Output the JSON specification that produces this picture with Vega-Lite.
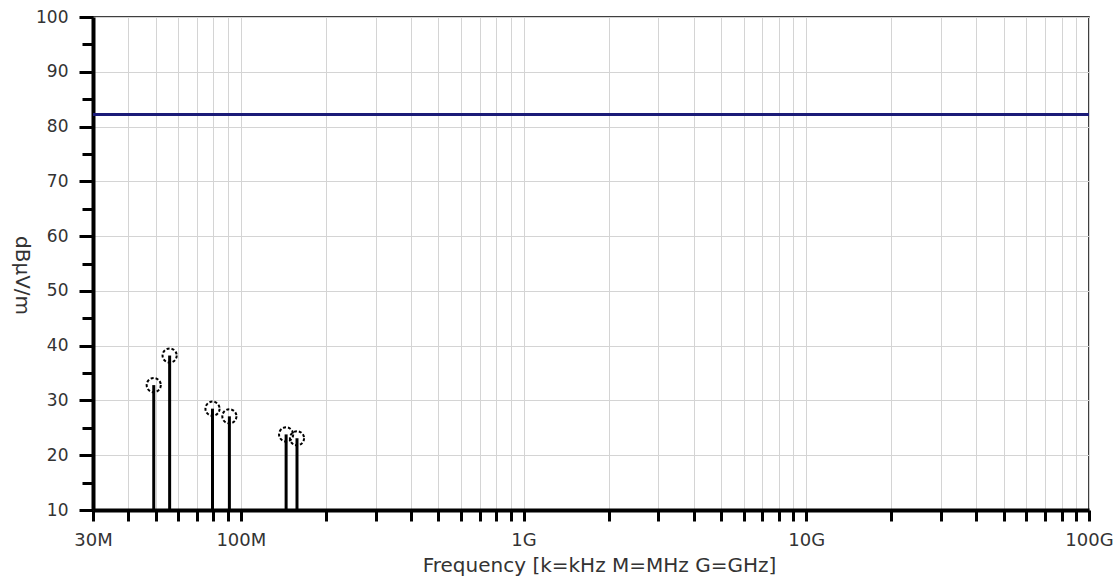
{
  "$schema": "https://vega.github.io/schema/vega-lite/v6.json",
  "autosize": "none",
  "width": 996,
  "height": 493,
  "padding": {"left": 93, "top": 17, "right": 30, "bottom": 76},
  "background": "white",
  "config": {
    "view": {"stroke": "black", "strokeWidth": 1.5},
    "font": "DejaVu Sans"
  },
  "datasets": {
    "peaks": [
      {"freq": 49.2e6, "level": 32.8},
      {"freq": 56.0e6, "level": 38.2},
      {"freq": 79.4e6, "level": 28.5},
      {"freq": 91.1e6, "level": 27.1},
      {"freq": 144.6e6, "level": 23.8},
      {"freq": 158.0e6, "level": 23.1}
    ],
    "limit": [
      {"freq": 30e6, "level": 82.2},
      {"freq": 100e9, "level": 82.2}
    ]
  },
  "encoding": {
    "x": {
      "field": "freq", "type": "quantitative",
      "scale": {"type": "log", "domain": [30e6, 1e11], "nice": false},
      "axis": {
        "values": [3e7,4e7,5e7,6e7,7e7,8e7,9e7,1e8,2e8,3e8,4e8,5e8,6e8,7e8,8e8,9e8,1e9,2e9,3e9,4e9,5e9,6e9,7e9,8e9,9e9,1e10,2e10,3e10,4e10,5e10,6e10,7e10,8e10,9e10,1e11],
        "labelExpr": "datum.value==3e7?'30M':datum.value==1e8?'100M':datum.value==1e9?'1G':datum.value==1e10?'10G':datum.value==1e11?'100G':''",
        "labelOverlap": false,
        "labelFlush": false,
        "labelBound": false,
        "title": "Frequency [k=kHz M=MHz G=GHz]",
        "titleFont": "DejaVu Sans",
        "titleFontSize": 20,
        "titleFontWeight": "normal",
        "titleColor": "#333",
        "titlePadding": 6,
        "titleX": 506,
        "labelFont": "DejaVu Sans",
        "labelFontSize": 18,
        "labelColor": "#333",
        "labelPadding": 10,
        "domainColor": "black",
        "domainWidth": 4,
        "tickColor": "black",
        "tickWidth": 3,
        "tickSize": 11,
        "grid": true,
        "gridColor": "#d4d4d4",
        "gridWidth": 1
      }
    },
    "y": {
      "field": "level", "type": "quantitative",
      "scale": {"domain": [10, 100], "nice": false, "zero": false},
      "axis": {
        "values": [10,15,20,25,30,35,40,45,50,55,60,65,70,75,80,85,90,95,100],
        "labelExpr": "datum.value % 10 == 0 ? datum.label : ''",
        "title": "dBµV/m",
        "titleAngle": 90,
        "titleX": -82,
        "titleY": 258,
        "titleFont": "DejaVu Sans",
        "titleFontSize": 20,
        "titleFontWeight": "normal",
        "titleColor": "#333",
        "labelFont": "DejaVu Sans",
        "labelFontSize": 17,
        "labelColor": "#333",
        "labelPadding": 11,
        "domainColor": "black",
        "domainWidth": 4,
        "ticks": true,
        "tickColor": "black",
        "tickWidth": 3,
        "tickSize": {"condition": {"test": "datum.value % 10 == 0", "value": 14}, "value": 11},
        "grid": true,
        "gridWidth": 1,
        "gridColor": {"condition": {"test": "datum.value % 10 == 0", "value": "#d4d4d4"}, "value": "transparent"}
      }
    }
  },
  "layer": [
    {
      "data": {"name": "limit"},
      "mark": {"type": "line", "color": "#1b1b78", "strokeWidth": 3, "clip": true}
    },
    {
      "data": {"name": "peaks"},
      "mark": {"type": "rule", "color": "black", "strokeWidth": 3},
      "encoding": {
        "y2": {"datum": 10}
      }
    },
    {
      "data": {"name": "peaks"},
      "mark": {"type": "point", "shape": "circle", "filled": false, "stroke": "black", "strokeWidth": 2, "strokeDash": [3, 2], "size": 200, "opacity": 1}
    }
  ]
}
